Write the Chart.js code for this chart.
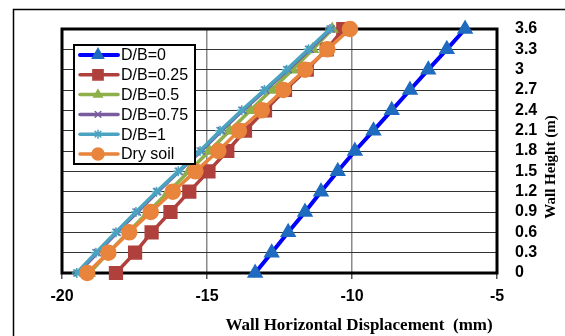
<!DOCTYPE html>
<html>
<head>
<meta charset="utf-8">
<script src="https://cdn.jsdelivr.net/npm/chart.js@4"></script>
<style>
  html, body { margin: 0; padding: 0; background: #fff; }
  #wrap { width: 565px; height: 336px; }
</style>
</head>
<body>
<div id="wrap"><canvas id="wall-chart" width="565" height="336"></canvas></div>
<script>
// wall height (m) for each reading
var heights = [0, 0.3, 0.6, 0.9, 1.2, 1.5, 1.8, 2.1, 2.4, 2.7, 3.0, 3.3, 3.6];
// horizontal displacement (mm)
var db0    = [-13.34, -12.77, -12.20, -11.62, -11.07, -10.49, -9.90, -9.26, -8.63, -8.00, -7.37, -6.73, -6.10];
var db025  = [-18.14, -17.48, -16.91, -16.26, -15.61, -14.95, -14.30, -13.69, -13.00, -12.31, -11.56, -10.87, -10.30];
var db05   = [-19.05, -18.40, -17.72, -17.03, -16.33, -15.62, -14.92, -14.22, -13.50, -12.78, -12.05, -11.35, -10.68];
var db075  = [-19.45, -18.78, -18.10, -17.40, -16.70, -15.96, -15.20, -14.50, -13.76, -12.98, -12.20, -11.45, -10.72];
var db1    = [-19.49, -18.83, -18.14, -17.45, -16.74, -15.99, -15.24, -14.55, -13.80, -13.02, -12.25, -11.50, -10.76];
var drySoil = [-19.13, -18.40, -17.68, -16.94, -16.18, -15.40, -14.61, -13.90, -13.11, -12.37, -11.62, -10.85, -10.07];

var seriesNames = ['D/B=0', 'D/B=0.25', 'D/B=0.5', 'D/B=0.75', 'D/B=1', 'Dry soil'];
var xTicks = [-20, -15, -10, -5];
var yTicks = [0, 0.3, 0.6, 0.9, 1.2, 1.5, 1.8, 2.1, 2.4, 2.7, 3, 3.3, 3.6];

function pts(xs) {
  return xs.map(function (x, i) { return { x: x, y: heights[i] }; });
}

var styles = [
  { line: '#0000FF', fill: '#1F6BBF', shape: 'triangle', r: 8, lw: 4 },
  { line: '#B0403C', fill: '#B0403C', shape: 'rect', r: 9, lw: 3.5 },
  { line: '#8DB04A', fill: '#8DB04A', shape: 'triangle', r: 6, lw: 3.5 },
  { line: '#7A5C9E', fill: '#7A5C9E', shape: 'crossRot', r: 5, lw: 3.5 },
  { line: '#4AA3C0', fill: '#4AA3C0', shape: 'star', r: 5, lw: 3.5 },
  { line: '#E8843B', fill: '#E8843B', shape: 'circle', r: 7.5, lw: 3.5 }
];
var allData = [db0, db025, db05, db075, db1, drySoil];

var datasets = allData.map(function (d, i) {
  var s = styles[i];
  return {
    label: seriesNames[i],
    data: pts(d),
    showLine: true,
    borderColor: s.line,
    borderWidth: s.lw,
    pointStyle: s.shape,
    pointRadius: s.r,
    pointBackgroundColor: s.fill,
    pointBorderColor: s.fill,
    pointBorderWidth: 1.5,
    order: 5 - i,
    clip: false
  };
});

// frame, plot border, titles, legend
var decor = {
  id: 'decor',
  beforeDraw: function (chart) {
    var ctx = chart.ctx;
    ctx.save();
    ctx.fillStyle = '#fff';
    ctx.fillRect(0, 0, chart.width, chart.height);
    ctx.strokeStyle = '#000';
    ctx.lineWidth = 1.5;
    ctx.beginPath();
    ctx.moveTo(13.5, chart.height);
    ctx.lineTo(13.5, 9.5);
    ctx.lineTo(chart.width, 9.5);
    ctx.stroke();
    ctx.restore();
  },
  beforeDatasetsDraw: function (chart) {
    var a = chart.chartArea, ctx = chart.ctx;
    ctx.save();
    ctx.strokeStyle = '#000';
    ctx.lineWidth = 3;
    ctx.strokeRect(a.left, a.top, a.right - a.left, a.bottom - a.top);
    ctx.restore();
  },
  afterDraw: function (chart) {
    var ctx = chart.ctx;
    ctx.save();
    ctx.fillStyle = '#000';
    ctx.font = 'bold 17px "Times New Roman", "Liberation Serif", serif';
    ctx.textAlign = 'center';
    ctx.textBaseline = 'middle';
    ctx.fillText('Wall Horizontal Displacement  (mm)', 359, 326);
    ctx.translate(551, 167);
    ctx.rotate(-Math.PI / 2);
    ctx.font = 'bold 15px "Times New Roman", "Liberation Serif", serif';
    ctx.fillText('Wall Height (m)', 0, 0);
    ctx.restore();

    // legend box
    ctx.save();
    ctx.fillStyle = '#fff';
    ctx.fillRect(74, 45, 121, 119);
    ctx.strokeStyle = '#000';
    ctx.lineWidth = 2;
    ctx.strokeRect(74, 45, 121, 119);
    ctx.font = '16px Arial, "Liberation Sans", sans-serif';
    ctx.textAlign = 'left';
    ctx.textBaseline = 'middle';
    for (var i = 0; i < seriesNames.length; i++) {
      var y = 55 + i * 19.8, s = styles[i];
      ctx.strokeStyle = s.line;
      ctx.lineWidth = s.lw;
      ctx.lineCap = 'round';
      ctx.beginPath();
      ctx.moveTo(80, y);
      ctx.lineTo(118, y);
      ctx.stroke();
      if (Chart.helpers && Chart.helpers.drawPoint) {
        ctx.fillStyle = s.fill;
        ctx.strokeStyle = s.fill;
        ctx.lineWidth = 1.5;
        Chart.helpers.drawPoint(ctx, { pointStyle: s.shape, radius: s.r * 0.8, rotation: 0, borderWidth: 1.5 }, 98, y);
      }
      ctx.fillStyle = '#000';
      ctx.fillText(seriesNames[i], 121, y + 1);
    }
    ctx.restore();
  }
};

new Chart(document.getElementById('wall-chart').getContext('2d'), {
  type: 'scatter',
  data: { datasets: datasets },
  options: {
    responsive: false,
    animation: false,
    layout: { padding: { left: 62, top: 29, right: 0, bottom: 0 } },
    plugins: { legend: { display: false }, tooltip: { enabled: false } },
    scales: {
      x: {
        type: 'linear',
        position: 'bottom',
        min: -20,
        max: -5,
        afterBuildTicks: function (axis) { axis.ticks = xTicks.map(function (v) { return { value: v }; }); },
        afterFit: function (axis) { axis.height = 63; },
        border: { display: false },
        grid: { color: '#8a8a8a', lineWidth: 1.5, tickLength: 6, tickColor: '#555' },
        ticks: {
          color: '#000',
          padding: 8,
          maxRotation: 0,
          autoSkip: false,
          font: { family: 'Arial, "Liberation Sans", sans-serif', size: 16, weight: 'bold' },
          callback: function (v) { return String(v); }
        }
      },
      y: {
        type: 'linear',
        position: 'right',
        min: 0,
        max: 3.6,
        afterBuildTicks: function (axis) { axis.ticks = yTicks.map(function (v) { return { value: v }; }); },
        afterFit: function (axis) { axis.width = 68; },
        border: { display: false },
        grid: { color: '#333', lineWidth: 1, drawTicks: false },
        ticks: {
          color: '#000',
          padding: 18,
          autoSkip: false,
          font: { family: 'Arial, "Liberation Sans", sans-serif', size: 16, weight: 'bold' },
          callback: function (v) { return String(Math.round(v * 10) / 10); }
        }
      }
    }
  },
  plugins: [decor]
});
</script>
</body>
</html>
